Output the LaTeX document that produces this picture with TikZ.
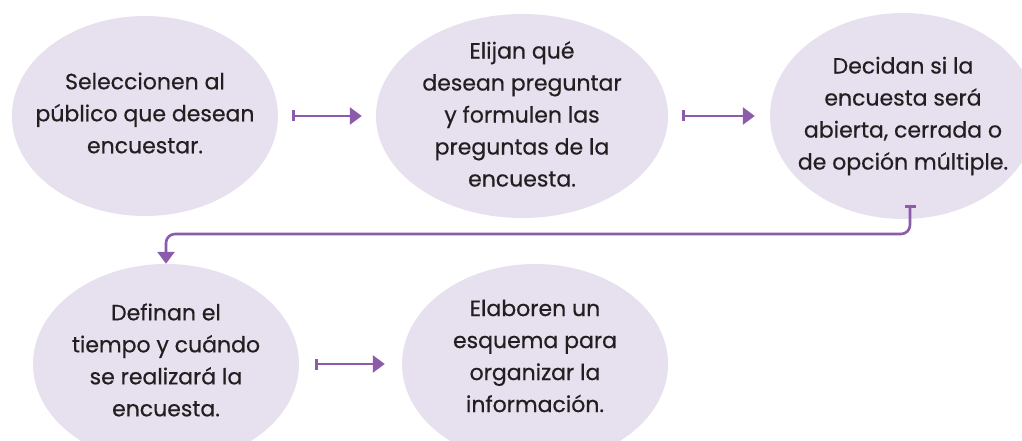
\documentclass[tikz,border=0pt]{standalone}
\usepackage{fontspec}
\setmainfont{Poppins}
\newfontfamily\bubblefont{Poppins}[FakeBold=0.5]
\usetikzlibrary{arrows.meta,shapes.geometric}
\definecolor{fillc}{HTML}{E6E0EF}
\definecolor{arrc}{HTML}{8C5BAA}
\definecolor{txtc}{HTML}{231F20}
\begin{document}
\begin{tikzpicture}[x=1pt,y=-1pt,
  bubble/.style={ellipse, fill=fillc, inner sep=0pt},
  txt/.style={align=center, text=txtc, inner sep=0pt,
    font=\bubblefont\fontsize{22}{32}\selectfont},
  arr/.style={draw=arrc, line width=2.6pt,
    {Bar[width=11pt]}-{Triangle[length=12pt,width=17pt]}}]
\useasboundingbox (0,0) rectangle (1022,441);
\clip (0,0) rectangle (1022,441);
\node[bubble, minimum width=266pt, minimum height=200pt] (a) at (145,116) {};
\node[txt] (ta) at ([yshift=3pt]a.center) {Seleccionen al\\público que desean\\encuestar.};
\node[bubble, minimum width=292pt, minimum height=204pt] (b) at (522,116) {};
\node[txt] (tb) at ([yshift=2pt]b.center) {Elijan qué\\desean preguntar\\y formulen las\\preguntas de la\\encuesta.};
\node[bubble, minimum width=266pt, minimum height=206pt] (c) at (903,116) {};
\node[txt] (tc) at ([yshift=0pt]c.center) {Decidan si la\\encuesta será\\abierta, cerrada o\\de opción múltiple.};
\node[bubble, minimum width=266pt, minimum height=200pt] (d) at (166,364) {};
\node[txt] (td) at ([yshift=4pt]d.center) {Definan el\\tiempo y cuándo\\se realizará la\\encuesta.};
\node[bubble, minimum width=266pt, minimum height=200pt] (e) at (535,364) {};
\node[txt] (te) at ([yshift=8pt]e.center) {Elaboren un\\esquema para\\organizar la\\información.};
\draw[arr] ([xshift=14pt]a.east) -- ([xshift=-14pt]b.west);
\draw[arr] ([xshift=14pt]b.east) -- ([xshift=-15pt]c.west);
\draw[arr] ([xshift=16pt]d.east) -- ([xshift=-17pt]e.west);
\coordinate (s) at (910,205);
\coordinate (m) at (0,234);
\draw[arr, rounded corners=9pt] (s) -- (s |- m) -- (d.north |- m) -- (d.north);
\end{tikzpicture}
\end{document}
